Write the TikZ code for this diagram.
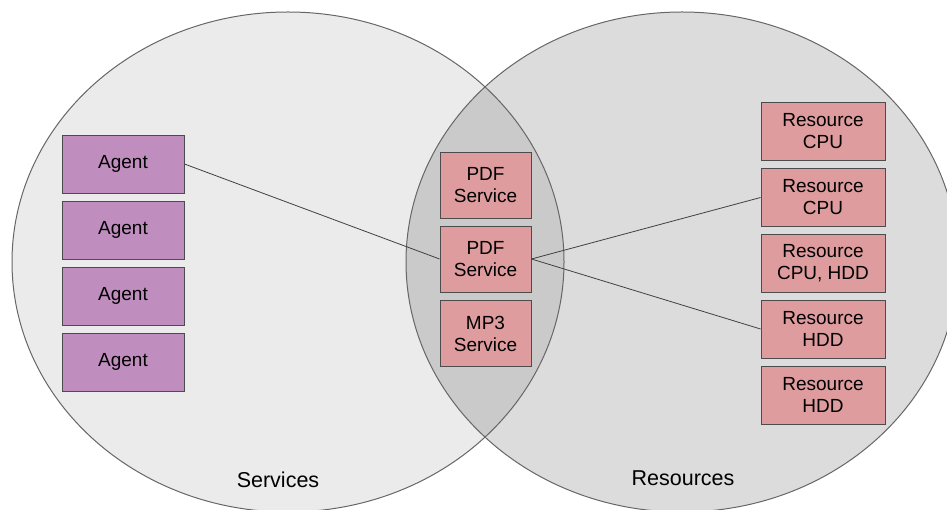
\documentclass[tikz,border=0pt]{standalone}
\usepackage{fontspec}
\setmainfont{Liberation Sans}
\definecolor{servicesgray}{RGB}{235,235,235}
\definecolor{resourcesgray}{RGB}{220,220,220}
\definecolor{bothgray}{RGB}{202,202,202}
\definecolor{agentpurple}{RGB}{192,142,190}
\definecolor{resourcepink}{RGB}{222,156,158}
\begin{document}
\begin{tikzpicture}[x=1pt,y=-1pt,
            box/.style = {rectangle,
                draw=black!70,
                line width=0.9pt,
                align=center,
                inner sep=0pt,
                font=\fontsize{19}{22}\selectfont,
                },
            agent/.style = {box,
                fill=agentpurple,
                minimum width=122pt,
                minimum height=58pt,
                },
            service/.style = {box,
                fill=resourcepink,
                minimum width=91pt,
                minimum height=66pt,
                },
            resource/.style = {box,
                fill=resourcepink,
                minimum width=124pt,
                minimum height=58pt,
                },
            link/.style = {draw=black!75,
                line width=0.8pt,
                }]
        
        \useasboundingbox (0,0) rectangle (947,510);
        \clip (0,0) rectangle (947,510);
        
        % Services
        \fill[servicesgray] (288,262) ellipse[x radius=276pt, y radius=250pt];
        
        % Resources
        \fill[resourcesgray] (682,262) ellipse[x radius=276pt, y radius=250pt];
        
        % Intersection
        \begin{scope}
            \clip (288,262) ellipse[x radius=276pt, y radius=250pt];
            \fill[bothgray] (682,262) ellipse[x radius=276pt, y radius=250pt];
        \end{scope}
        
        % Circles outline
        \draw[black!60, line width=1pt] (288,262) ellipse[x radius=276pt, y radius=250pt];
        \draw[black!60, line width=1pt] (682,262) ellipse[x radius=276pt, y radius=250pt];
        
        % Labels
        \node[font=\fontsize{21.5}{24}\selectfont] (services) at (278,480) {Services};
        \node[font=\fontsize{21.5}{24}\selectfont] (resources) at (683,478) {Resources};
        
        % Agents
        \node[agent] (agent1) at (123,164) {Agent};
        \node[agent] (agent2) at (123,230) {Agent};
        \node[agent] (agent3) at (123,296) {Agent};
        \node[agent] (agent4) at (123,362) {Agent};
        
        % Services in both sets
        \node[service] (pdf1) at (485.5,185) {PDF\\Service};
        \node[service] (pdf2) at (485.5,259) {PDF\\Service};
        \node[service] (mp3) at (485.5,333.5) {MP3\\Service};
        
        % Resources
        \node[resource] (res1) at (823,131.5) {Resource\\CPU};
        \node[resource] (res2) at (823,197.5) {Resource\\CPU};
        \node[resource] (res3) at (823,263) {Resource\\CPU, HDD};
        \node[resource] (res4) at (823,329) {Resource\\HDD};
        \node[resource] (res5) at (823,395) {Resource\\HDD};
        
        % Links
        \draw[link] (agent1.east) -- (pdf2.west);
        \draw[link] (pdf2.east) -- (res2.west);
        \draw[link] (pdf2.east) -- (res4.west);
        
        \end{tikzpicture}
\end{document}
